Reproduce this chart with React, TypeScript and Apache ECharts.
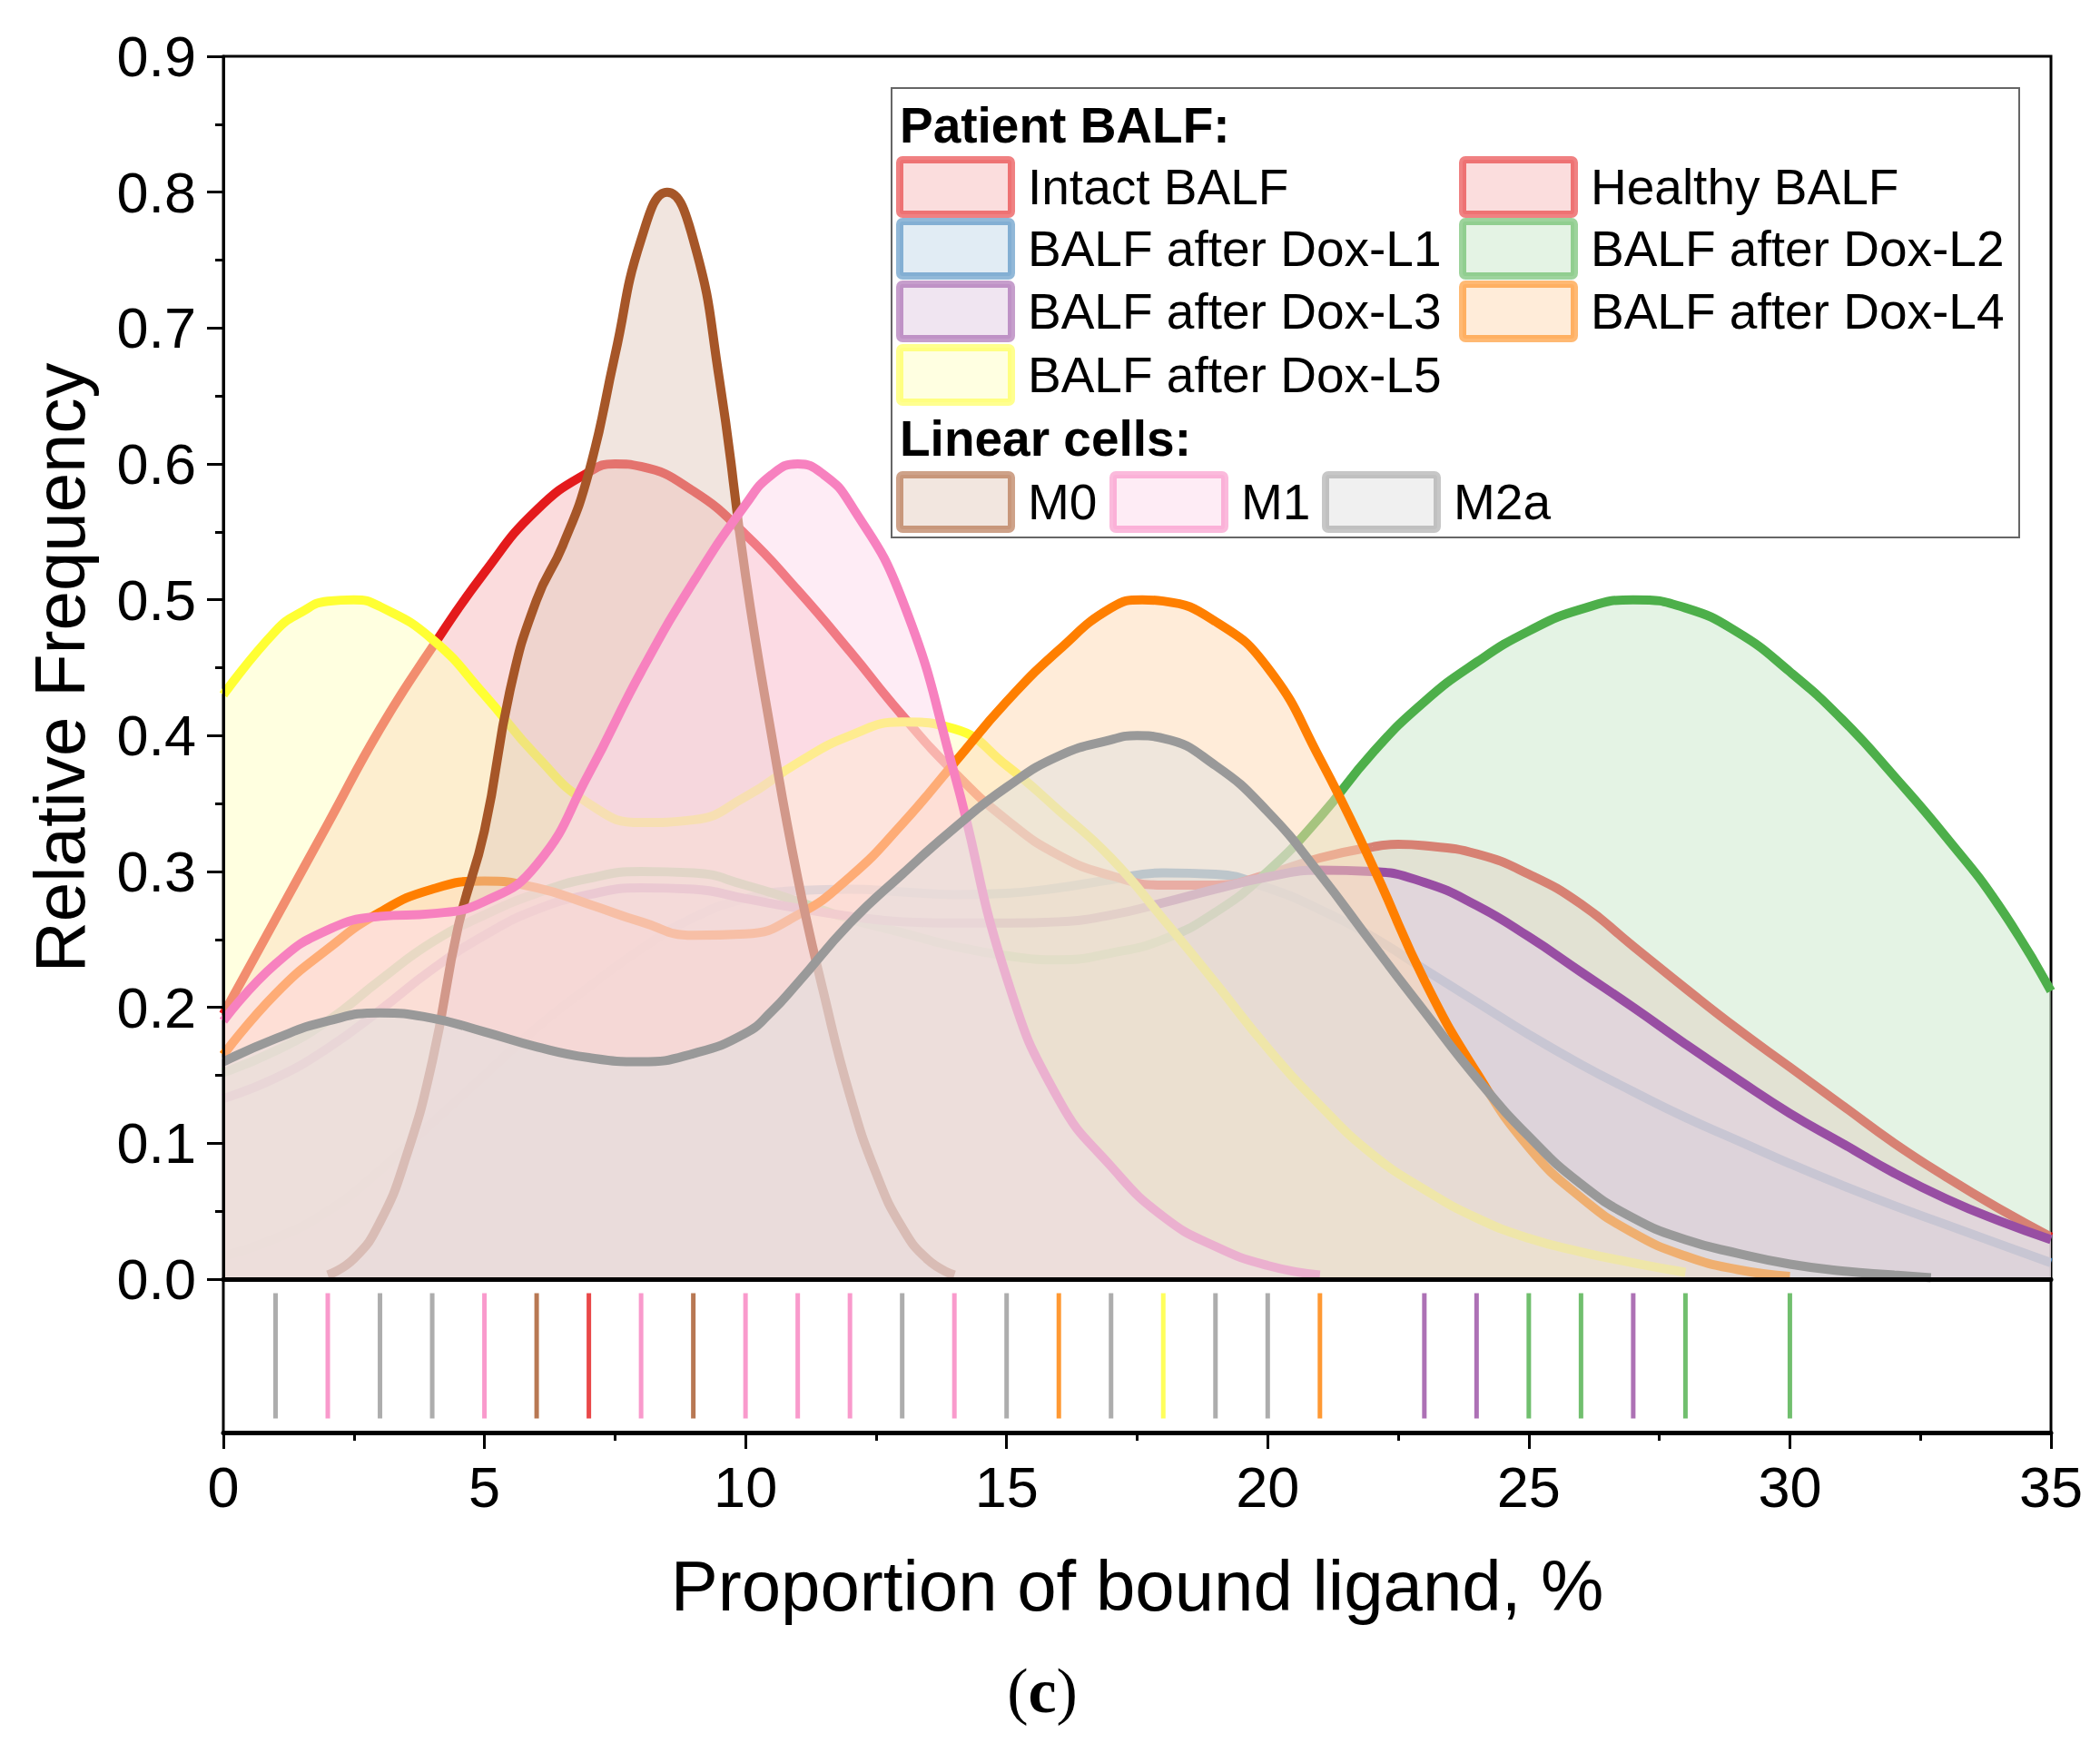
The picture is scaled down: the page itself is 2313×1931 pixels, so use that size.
import React, { useEffect, useRef } from 'react';
import * as echarts from 'echarts';

const FONT = '"Liberation Sans", Arial, Helvetica, sans-serif';
const SERIF = '"Liberation Serif", "Times New Roman", serif';

// density curves: [proportion %, relative frequency]
const intactBalf = [
  [0, 0.195], [1, 0.265], [2, 0.335], [3, 0.405], [4, 0.465], [5, 0.52], [6, 0.566], [7, 0.594],
  [7.5, 0.6], [8, 0.598], [9, 0.58], [10, 0.548], [11, 0.507], [12, 0.462], [13, 0.415], [14, 0.373],
  [15, 0.338], [16, 0.312], [17, 0.297], [18, 0.29], [19, 0.29], [20, 0.298], [21, 0.31], [22, 0.318],
  [22.5, 0.32], [23, 0.319], [24, 0.313], [25, 0.298], [26, 0.276], [27, 0.245], [28, 0.214],
  [29, 0.184], [30, 0.156], [31, 0.128], [32, 0.1], [33, 0.075], [34, 0.052], [35, 0.031],
];
const healthyBalf: number[][] = [];
const doxL1 = [
  [0, 0.017], [1, 0.03], [2, 0.05], [3, 0.08], [4, 0.115], [5, 0.15], [6, 0.185], [7, 0.215],
  [8, 0.243], [9, 0.266], [10, 0.28], [11, 0.286], [12, 0.287], [13, 0.285], [14, 0.283], [15, 0.284],
  [16, 0.288], [17, 0.294], [18, 0.299], [19, 0.298], [20, 0.288], [21, 0.272], [22, 0.252],
  [23, 0.228], [24, 0.204], [25, 0.18], [26, 0.158], [27, 0.138], [28, 0.119], [29, 0.102],
  [30, 0.085], [31, 0.069], [32, 0.054], [33, 0.04], [34, 0.026], [35, 0.012],
];
const doxL2 = [
  [0, 0.152], [1, 0.168], [2, 0.19], [3, 0.22], [4, 0.248], [5, 0.268], [6, 0.284], [7, 0.295],
  [8, 0.3], [9, 0.299], [10, 0.29], [11, 0.278], [12, 0.265], [13, 0.255], [14, 0.245], [15, 0.238],
  [16, 0.235], [17, 0.24], [18, 0.25], [19, 0.27], [20, 0.3], [21, 0.34], [22, 0.387], [23, 0.425],
  [24, 0.454], [25, 0.477], [26, 0.493], [27, 0.5], [28, 0.494], [29, 0.476], [30, 0.447],
  [31, 0.412], [32, 0.37], [33, 0.325], [34, 0.275], [35, 0.212],
];
const doxL3 = [
  [0, 0.133], [1, 0.148], [2, 0.17], [3, 0.198], [4, 0.228], [5, 0.253], [6, 0.272], [7, 0.283],
  [8, 0.288], [9, 0.287], [10, 0.28], [11, 0.273], [12, 0.267], [13, 0.263], [14, 0.262], [15, 0.262],
  [16, 0.263], [17, 0.268], [18, 0.277], [19, 0.287], [20, 0.296], [21, 0.301], [22, 0.3], [23, 0.292],
  [24, 0.275], [25, 0.252], [26, 0.226], [27, 0.2], [28, 0.173], [29, 0.147], [30, 0.122],
  [31, 0.1], [32, 0.078], [33, 0.059], [34, 0.043], [35, 0.029],
];
const doxL4 = [
  [0, 0.165], [1, 0.21], [2, 0.243], [3, 0.27], [4, 0.287], [5, 0.293], [6, 0.288], [7, 0.276],
  [8, 0.263], [9, 0.253], [10, 0.254], [11, 0.268], [12, 0.296], [13, 0.335], [14, 0.38], [15, 0.425],
  [16, 0.463], [17, 0.494], [17.6, 0.5], [18, 0.499], [19, 0.484], [20, 0.45], [21, 0.383], [22, 0.305],
  [23, 0.22], [24, 0.152], [25, 0.097], [26, 0.06], [27, 0.034], [28, 0.017], [29, 0.007], [30, 0.002],
];
const doxL5 = [
  [0, 0.43], [1, 0.477], [1.5, 0.491], [2, 0.499], [2.5, 0.5], [3, 0.495], [4, 0.471], [5, 0.43], [6, 0.385],
  [7, 0.35], [8, 0.336], [9, 0.338], [10, 0.355], [11, 0.38], [12, 0.4], [13, 0.41], [14, 0.405],
  [15, 0.378], [16, 0.345], [17, 0.31], [18, 0.265], [19, 0.218], [20, 0.17], [21, 0.128],
  [22, 0.092], [23, 0.066], [24, 0.045], [25, 0.03], [26, 0.02], [27, 0.012], [28, 0.005],
];
const m0 = [
  [2, 0.003], [2.5, 0.015], [3, 0.042], [3.5, 0.09], [4, 0.16], [4.5, 0.26], [5, 0.33], [5.5, 0.435],
  [6, 0.5], [6.5, 0.54], [7, 0.594], [7.5, 0.68], [8, 0.765], [8.5, 0.8], [9, 0.765], [9.5, 0.662],
  [10, 0.518], [10.5, 0.4], [11, 0.295], [11.5, 0.21], [12, 0.135], [12.5, 0.078], [13, 0.038],
  [13.5, 0.014], [14, 0.003],
];
const m1 = [
  [0, 0.19], [1, 0.232], [2, 0.257], [3, 0.267], [4, 0.269], [5, 0.278], [6, 0.305], [7, 0.372],
  [8, 0.447], [9, 0.513], [10, 0.57], [10.5, 0.592], [11, 0.6], [11.5, 0.592], [12, 0.571], [13, 0.5],
  [14, 0.372], [15, 0.222], [16, 0.132], [17, 0.083], [18, 0.046], [19, 0.024], [20, 0.01], [21, 0.003],
];
const m2a = [
  [0, 0.16], [1, 0.177], [2, 0.19], [3, 0.196], [4, 0.192], [5, 0.182], [6, 0.171], [7, 0.163],
  [8, 0.16], [9, 0.166], [10, 0.181], [10.5, 0.197], [11, 0.218], [12, 0.262], [13, 0.298], [14, 0.332],
  [15, 0.362], [16, 0.385], [17, 0.397], [17.5, 0.4], [18, 0.398], [19, 0.378], [20, 0.344], [21, 0.298],
  [22, 0.247], [23, 0.197], [24, 0.148], [25, 0.105], [26, 0.07], [27, 0.045], [28, 0.029],
  [29, 0.019], [30, 0.011], [31, 0.006], [32, 0.003], [32.7, 0.001],
];

// rug of individual samples below the plot
const rugX = [1, 2, 3, 4, 5, 6, 7, 8, 9, 10, 11, 12, 13, 14, 15, 16, 17, 18, 19, 20, 21, 23, 24, 25, 26, 27, 28, 30];
const rugGroup = [
  'm2a', 'm1', 'm2a', 'm2a', 'm1', 'm0', 'intact', 'm1', 'm0', 'm1', 'm1', 'm1', 'm2a', 'm1',
  'm2a', 'l4', 'm2a', 'l5', 'm2a', 'm2a', 'l4', 'l3', 'l3', 'l2', 'l2', 'l3', 'l2', 'l2',
];

const COLORS: Record<string, string> = {
  intact: '#e41a1c',
  healthy: '#e41a1c',
  l1: '#377eb8',
  l2: '#4daf4a',
  l3: '#984ea3',
  l4: '#ff7f00',
  l5: '#ffff33',
  m0: '#a65628',
  m1: '#f781bf',
  m2a: '#999999',
};

// bottom to top: later fills veil the lines drawn before them
const CURVES = [
  { key: 'l1', name: 'BALF after Dox-L1', data: doxL1 },
  { key: 'intact', name: 'Intact BALF', data: intactBalf },
  { key: 'healthy', name: 'Healthy BALF', data: healthyBalf },
  { key: 'l2', name: 'BALF after Dox-L2', data: doxL2 },
  { key: 'l3', name: 'BALF after Dox-L3', data: doxL3 },
  { key: 'l5', name: 'BALF after Dox-L5', data: doxL5 },
  { key: 'l4', name: 'BALF after Dox-L4', data: doxL4 },
  { key: 'm0', name: 'M0', data: m0 },
  { key: 'm1', name: 'M1', data: m1 },
  { key: 'm2a', name: 'M2a', data: m2a },
];

const rgb = (hex: string) => [1, 3, 5].map((i) => parseInt(hex.slice(i, i + 2), 16));
const rgba = (hex: string, a: number) => `rgba(${rgb(hex).join(',')},${a})`;
const tint = (hex: string, t: number) => {
  const c = rgb(hex).map((v) => Math.round(255 - (255 - v) * t));
  return `rgb(${c.join(',')})`;
};

const swatch = (x: number, yc: number, key: string) => ({
  type: 'rect',
  z: 101,
  shape: { x: x + 4, y: yc - 30, width: 123, height: 60, r: 3 },
  style: { fill: rgba(COLORS[key], 0.15), stroke: rgba(COLORS[key], 0.55), lineWidth: 8 },
});

const label = (x: number, yc: number, text: string, bold = false) => ({
  type: 'text',
  z: 101,
  x,
  y: yc,
  style: {
    text,
    fontSize: 55,
    fontFamily: FONT,
    fontWeight: bold ? 'bold' : 'normal',
    fill: '#000',
    align: 'left',
    verticalAlign: 'middle',
  },
});

const legendGraphic = () => {
  const col1 = 987;
  const col2 = 1607;
  const rows = [206, 274, 343, 413];
  const items: any[] = [
    {
      type: 'rect',
      z: 100,
      shape: { x: 982, y: 97, width: 1242, height: 495 },
      style: { fill: '#fff', stroke: '#666', lineWidth: 2 },
    },
    label(991, 138, 'Patient BALF:', true),
  ];
  const patient = [
    ['intact', 'Intact BALF', col1, rows[0]],
    ['healthy', 'Healthy BALF', col2, rows[0]],
    ['l1', 'BALF after Dox-L1', col1, rows[1]],
    ['l2', 'BALF after Dox-L2', col2, rows[1]],
    ['l3', 'BALF after Dox-L3', col1, rows[2]],
    ['l4', 'BALF after Dox-L4', col2, rows[2]],
    ['l5', 'BALF after Dox-L5', col1, rows[3]],
  ] as [string, string, number, number][];
  patient.forEach(([key, text, x, y]) => {
    items.push(swatch(x, y, key), label(x + 145, y, text));
  });
  items.push(label(991, 483, 'Linear cells:', true));
  const cells = [
    ['m0', 'M0', 987],
    ['m1', 'M1', 1222],
    ['m2a', 'M2a', 1456],
  ] as [string, string, number][];
  cells.forEach(([key, text, x]) => {
    items.push(swatch(x, 553, key), label(x + 145, 553, text));
  });
  return items;
};

const App: React.FC = () => {
  const chartRef = useRef<HTMLDivElement>(null);

  useEffect(() => {
    document.body.style.margin = '0';
    if (!chartRef.current) return undefined;
    const chart = echarts.init(chartRef.current, undefined, { renderer: 'svg' });

    const axisColor = '#000';
    const options: any = {
      animation: false,
      backgroundColor: '#fff',
      grid: [
        { left: 246, top: 62, width: 2013, height: 1347, show: true, borderColor: axisColor, borderWidth: 3 },
        { left: 246, top: 1409, width: 2013, height: 169, show: true, borderColor: axisColor, borderWidth: 3 },
      ],
      xAxis: [
        {
          gridIndex: 0,
          type: 'value',
          min: 0,
          max: 35,
          z: 50,
          axisLine: { show: true, onZero: false, lineStyle: { color: axisColor, width: 5 } },
          axisTick: { show: false },
          axisLabel: { show: false },
          splitLine: { show: false },
        },
        {
          gridIndex: 1,
          type: 'value',
          min: 0,
          max: 35,
          interval: 5,
          axisLine: { show: true, onZero: false, lineStyle: { color: axisColor, width: 5 } },
          axisTick: { show: true, length: 18, lineStyle: { color: axisColor, width: 3 } },
          minorTick: { show: true, splitNumber: 2, length: 9, lineStyle: { color: axisColor, width: 3 } },
          axisLabel: { fontSize: 63, fontFamily: FONT, color: '#000', margin: 28 },
          splitLine: { show: false },
          name: 'Proportion of bound ligand, %',
          nameLocation: 'middle',
          nameGap: 130,
          nameTextStyle: { fontSize: 78, fontFamily: FONT, color: '#000' },
        },
      ],
      yAxis: [
        {
          gridIndex: 0,
          type: 'value',
          min: 0,
          max: 0.9,
          interval: 0.1,
          z: 50,
          axisLine: { show: true, lineStyle: { color: axisColor, width: 3 } },
          axisTick: { show: true, length: 18, lineStyle: { color: axisColor, width: 3 } },
          minorTick: { show: true, splitNumber: 2, length: 9, lineStyle: { color: axisColor, width: 3 } },
          axisLabel: {
            fontSize: 63,
            fontFamily: FONT,
            color: '#000',
            margin: 30,
            formatter: (v: number) => v.toFixed(1),
          },
          splitLine: { show: false },
          name: 'Relative Frequency',
          nameLocation: 'middle',
          nameGap: 141,
          nameTextStyle: { fontSize: 78, fontFamily: FONT, color: '#000' },
        },
        { gridIndex: 1, type: 'value', min: 0, max: 1, show: false },
      ],
      series: [
        ...CURVES.map((c, i) => ({
          type: 'line',
          name: c.name,
          xAxisIndex: 0,
          yAxisIndex: 0,
          z: 3 + i,
          data: c.data,
          smooth: 0.5,
          symbol: 'none',
          lineStyle: { color: COLORS[c.key], width: 10 },
          itemStyle: { color: COLORS[c.key] },
          areaStyle: { color: tint(COLORS[c.key], 0.3), opacity: 0.5 },
        })),
        {
          type: 'scatter',
          name: 'rug',
          xAxisIndex: 1,
          yAxisIndex: 1,
          symbol: 'rect',
          symbolSize: [5, 138],
          silent: true,
          data: rugX.map((x, i) => ({
            value: [x, 0.5],
            itemStyle: { color: COLORS[rugGroup[i]] },
          })),
        },
      ],
      graphic: [
        ...legendGraphic(),
        {
          type: 'text',
          z: 101,
          x: 1148,
          y: 1862,
          style: {
            text: '{p|(}{b|c}{p|)}',
            align: 'center',
            verticalAlign: 'middle',
            rich: {
              p: { fontFamily: SERIF, fontSize: 70, fill: '#000' },
              b: { fontFamily: SERIF, fontSize: 70, fontWeight: 'bold', fill: '#000' },
            },
          },
        },
      ],
    };
    chart.setOption(options);

    return () => {
      chart.dispose();
    };
  }, []);

  return <div ref={chartRef} style={{ width: '2313px', height: '1931px' }} />;
};

export default App;
